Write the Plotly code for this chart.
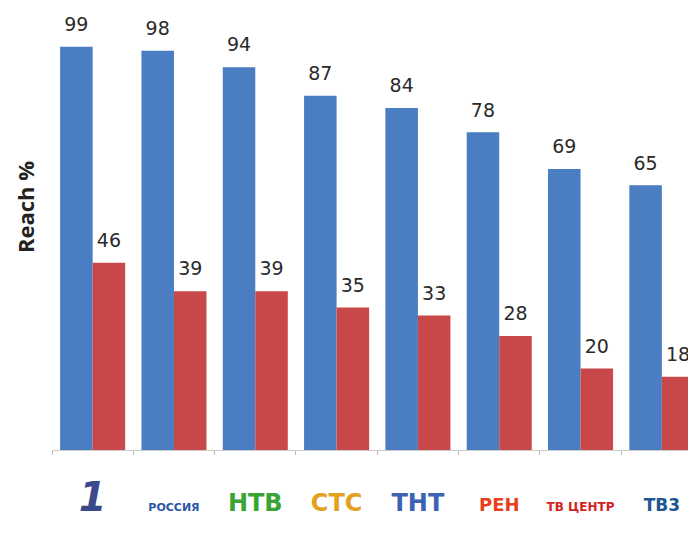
import plotly.graph_objects as go

channels = ["Первый", "Россия", "НТВ", "СТС", "ТНТ", "РЕН", "ТВ Центр", "ТВ3"]
tick_labels = [
    "<span style='font-size:40px;color:#3A4A8C'><b><i>1</i></b></span>",
    "<span style='font-size:11px;color:#2A55A8'><b>РОССИЯ</b></span>",
    "<span style='font-size:24px;color:#38A534'><b>НТВ</b></span>",
    "<span style='font-size:24px;color:#E2A21E'><b>СТС</b></span>",
    "<span style='font-size:24px;color:#3C62B4'><b>ТНТ</b></span>",
    "<span style='font-size:18px;color:#E8401C'><b>РЕН</b></span>",
    "<span style='font-size:12px;color:#D02222'><b>ТВ ЦЕНТР</b></span>",
    "<span style='font-size:17px;color:#1E5592'><b>ТВ3</b></span>",
]
reach_blue = [99, 98, 94, 87, 84, 78, 69, 65]
reach_red = [46, 39, 39, 35, 33, 28, 20, 18]

BLUE = "#4A7DC2"
RED = "#C8484A"
bargap = 0.2
half = (1 - bargap) / 4

fig = go.Figure()
fig.add_trace(go.Bar(x=channels, y=reach_blue, marker_color=BLUE, marker_line_width=0,
                     name="blue", showlegend=False))
fig.add_trace(go.Bar(x=channels, y=reach_red, marker_color=RED, marker_line_width=0,
                     name="red", showlegend=False))

idx = list(range(len(channels)))
label_font = dict(family="DejaVu Sans", size=19, color="#2A2A2A")
fig.add_trace(go.Scatter(x=[i - half for i in idx], y=reach_blue, xaxis="x2",
                         mode="markers+text", text=[str(v) for v in reach_blue],
                         textposition="top center", marker=dict(size=16, opacity=0),
                         textfont=label_font, showlegend=False, hoverinfo="skip",
                         cliponaxis=False))
fig.add_trace(go.Scatter(x=[i + half for i in idx], y=reach_red, xaxis="x2",
                         mode="markers+text", text=[str(v) for v in reach_red],
                         textposition="top center", marker=dict(size=16, opacity=0),
                         textfont=label_font, showlegend=False, hoverinfo="skip",
                         cliponaxis=False))

# page body has an 8px margin: figure occupies page pixels 8..696 / 8..536
plot_h = 528 - 86
ymax = plot_h / (448 / 110)
xr = [-0.5, 7.42]
fig.update_layout(
    width=688, height=528,
    margin=dict(l=44, r=0, t=0, b=86, autoexpand=False),
    paper_bgcolor="white", plot_bgcolor="white",
    barmode="group", bargap=bargap, bargroupgap=0,
    xaxis=dict(type="category", range=xr, tickvals=channels, ticktext=tick_labels,
               tickson="boundaries", ticks="outside", ticklen=4, tickcolor="#BBBBBB",
               showline=True, linecolor="#CCCCCC", linewidth=1, showgrid=False,
               ticklabelstandoff=43, automargin=False,
               tickfont=dict(family="DejaVu Sans", size=14)),
    xaxis2=dict(overlaying="x", range=xr, visible=False),
    yaxis=dict(range=[0, ymax], showticklabels=False, showgrid=False, zeroline=False,
               showline=False, ticks="", automargin=False),
    annotations=[dict(text="Reach %", textangle=-90, xref="paper", yref="paper",
                      x=0, y=(450 - 207) / plot_h, xanchor="center", yanchor="middle",
                      xshift=-27, showarrow=False,
                      font=dict(family="Open Sans", size=22, color="#222222",
                                weight="bold"))],
)
fig.write_html("out.html")
